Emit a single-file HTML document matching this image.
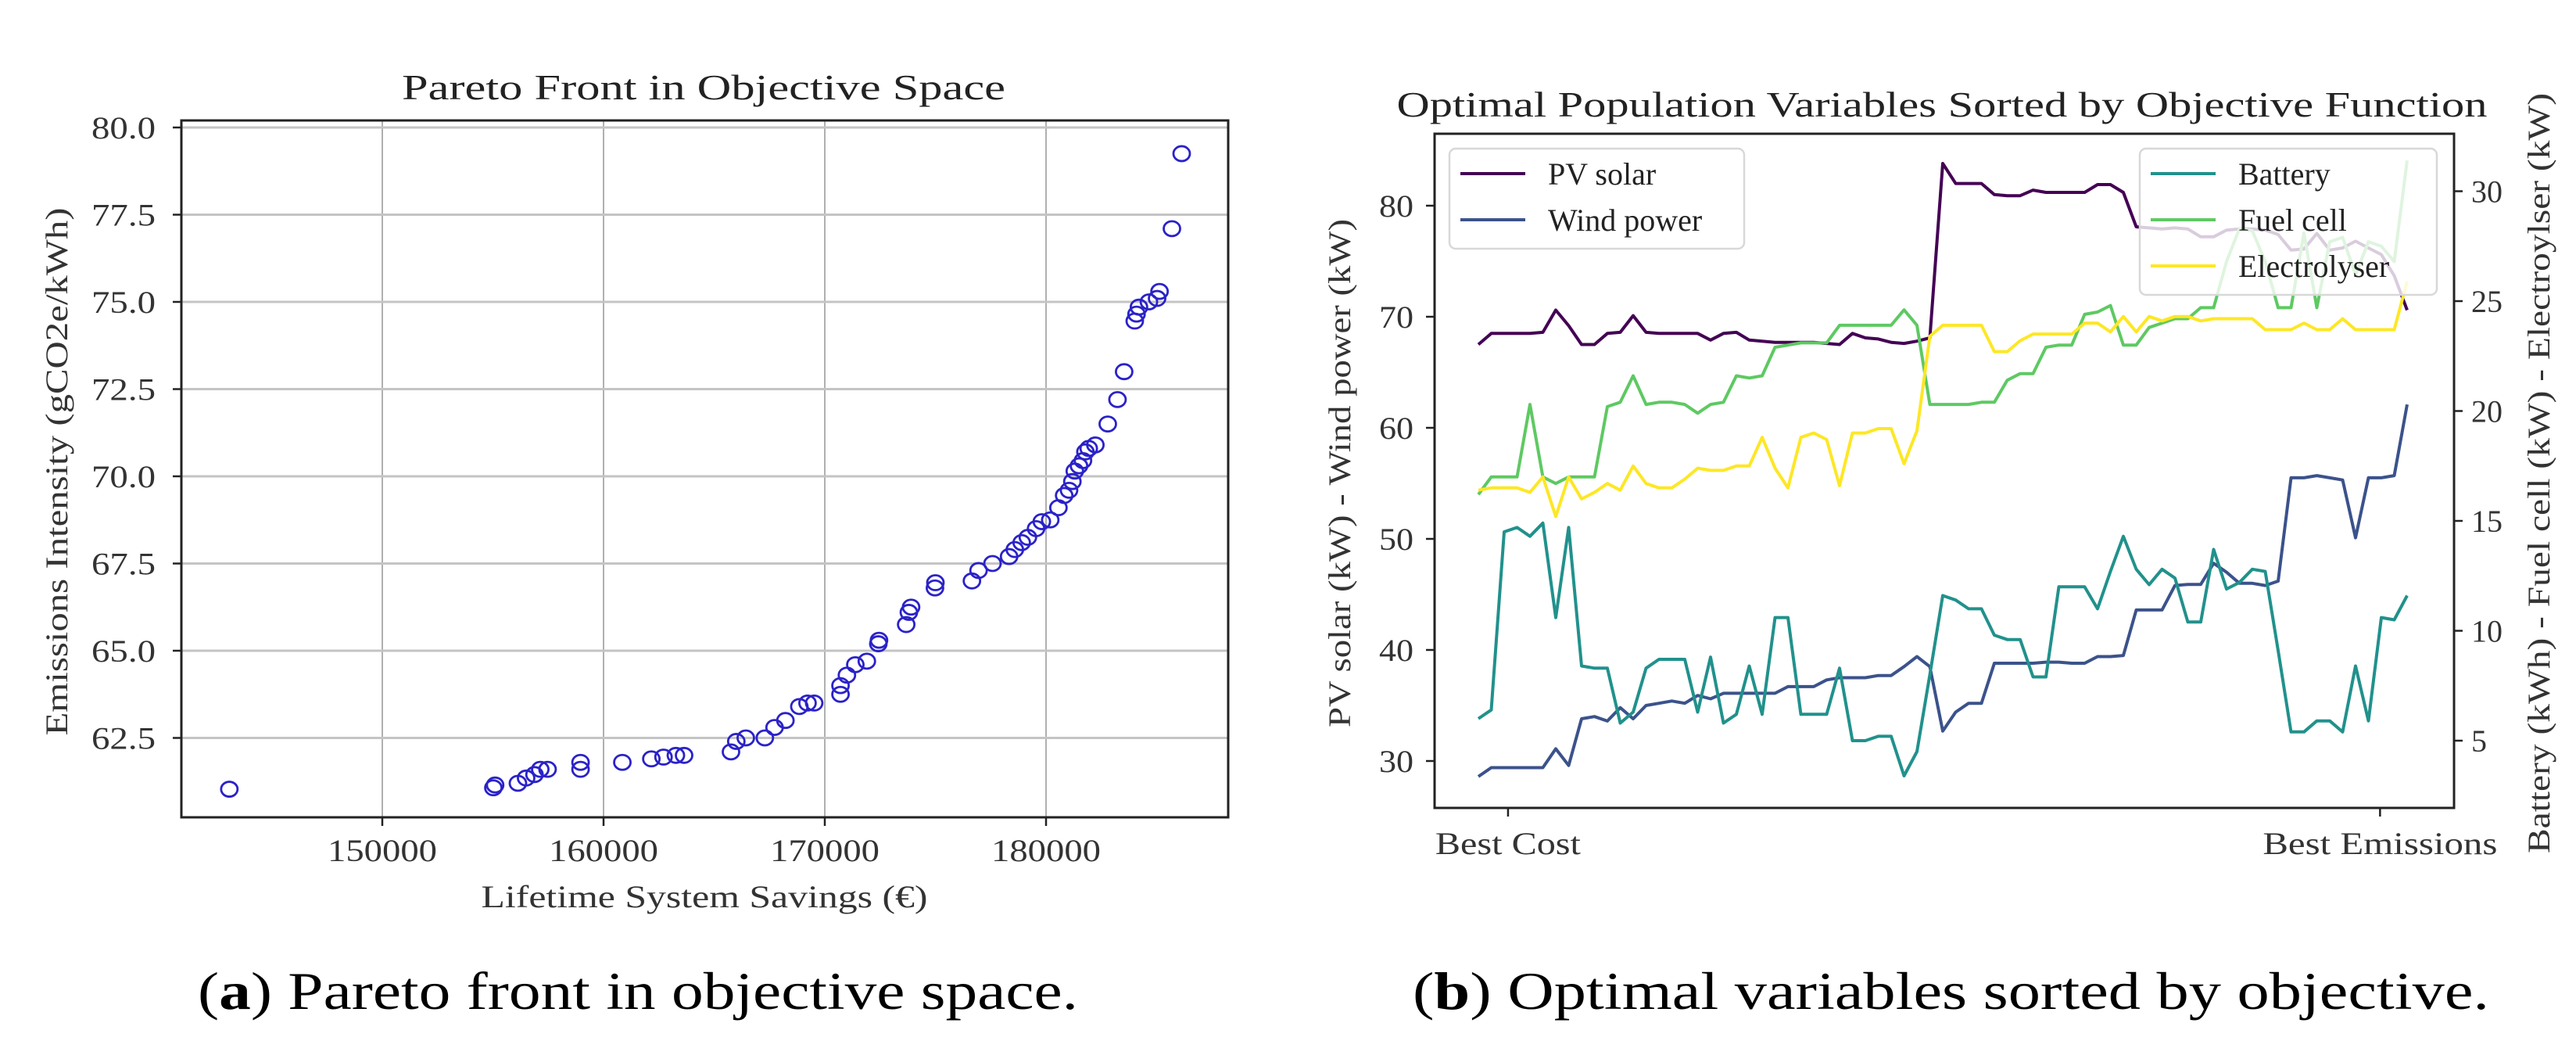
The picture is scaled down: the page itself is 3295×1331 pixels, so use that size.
<!DOCTYPE html>
<html><head><meta charset="utf-8"><style>
html,body{margin:0;padding:0;background:#fff;}
svg{display:block;font-family:"Liberation Serif","DejaVu Serif",serif;}
</style></head><body>
<svg id="fig" xmlns="http://www.w3.org/2000/svg" width="3295" height="1331" viewBox="0 0 3295 1331">
<rect width="3295" height="1331" fill="#fff"/>
<g id="left"></g>
<g id="right"></g>
<text x="253" y="1290" font-size="68" textLength="1126" lengthAdjust="spacingAndGlyphs" fill="#000">(<tspan font-weight="bold">a</tspan>) Pareto front in objective space.</text>
<text x="1807" y="1290" font-size="68" textLength="1377" lengthAdjust="spacingAndGlyphs" fill="#000">(<tspan font-weight="bold">b</tspan>) Optimal variables sorted by objective.</text>
</svg>
<script>
// ---- Left chart data ----
const savings = [143086,155020,155100,156130,156500,156880,157140,157470,158960,158960,160850,162160,162710,163270,163640,165760,166000,166430,167290,167730,168220,168850,169220,169520,170710,170710,171000,171380,171900,172420,172450,173680,173800,173900,174980,175000,176650,176950,177580,178330,178590,178900,179180,179550,179810,180190,180560,180820,181040,181190,181300,181490,181670,181780,181930,182230,182790,183230,183530,184010,184090,184200,184650,185020,185130,185690,186130];
const emissions = [61.03,61.07,61.15,61.2,61.35,61.45,61.6,61.6,61.6,61.8,61.8,61.9,61.95,62.0,62.0,62.1,62.4,62.5,62.5,62.8,63.0,63.4,63.5,63.5,63.75,64.0,64.3,64.6,64.7,65.2,65.3,65.75,66.1,66.25,66.8,66.95,67.0,67.3,67.5,67.7,67.9,68.1,68.25,68.5,68.7,68.75,69.1,69.45,69.6,69.85,70.15,70.3,70.45,70.7,70.8,70.9,71.5,72.2,73.0,74.45,74.65,74.85,75.0,75.1,75.3,77.1,79.25];
const xTicksL = [150000,160000,170000,180000];
const yTicksL = [62.5,65.0,67.5,70.0,72.5,75.0,77.5,80.0];

// ---- Right chart data ----
const pvSolar = [67.5,68.5,68.5,68.5,68.5,68.6,70.6,69.2,67.5,67.5,68.5,68.6,70.1,68.6,68.5,68.5,68.5,68.5,67.9,68.5,68.6,67.9,67.8,67.7,67.7,67.7,67.7,67.6,67.5,68.5,68.1,68.0,67.7,67.6,67.8,68.1,83.8,82.0,82.0,82.0,81.0,80.9,80.9,81.4,81.2,81.2,81.2,81.2,81.9,81.9,81.2,78.1,78.0,77.9,78.0,77.9,77.2,77.2,77.8,77.9,77.9,77.8,77.4,76.0,76.1,77.5,76.0,76.2,76.8,76.2,75.6,73.7,70.6];
const windPower = [28.6,29.4,29.4,29.4,29.4,29.4,31.1,29.6,33.8,34.0,33.6,34.8,33.8,35.0,35.2,35.4,35.2,35.9,35.6,36.1,36.1,36.1,36.1,36.1,36.7,36.7,36.7,37.3,37.5,37.5,37.5,37.7,37.7,38.5,39.4,38.5,32.7,34.4,35.2,35.2,38.8,38.8,38.8,38.8,38.9,38.9,38.8,38.8,39.4,39.4,39.5,43.6,43.6,43.6,45.8,45.9,45.9,47.8,47.0,46.0,46.0,45.8,46.2,55.5,55.5,55.7,55.5,55.3,50.1,55.5,55.5,55.7,62.1];
const battery = [6.0,6.4,14.5,14.7,14.3,14.9,10.6,14.7,8.4,8.3,8.3,5.8,6.3,8.3,8.7,8.7,8.7,6.3,8.8,5.8,6.2,8.4,6.2,10.6,10.6,6.2,6.2,6.2,8.3,5.0,5.0,5.2,5.2,3.4,4.5,8.0,11.6,11.4,11.0,11.0,9.8,9.6,9.6,7.9,7.9,12.0,12.0,12.0,11.0,12.7,14.3,12.8,12.1,12.8,12.4,10.4,10.4,13.7,11.9,12.2,12.8,12.7,9.1,5.4,5.4,5.9,5.9,5.4,8.4,5.9,10.6,10.5,11.6];
const fuelCell = [16.2,17.0,17.0,17.0,20.3,17.0,16.7,17.0,17.0,17.0,20.2,20.4,21.6,20.3,20.4,20.4,20.3,19.9,20.3,20.4,21.6,21.5,21.6,22.9,23.0,23.1,23.1,23.1,23.9,23.9,23.9,23.9,23.9,24.6,23.9,20.3,20.3,20.3,20.3,20.4,20.4,21.4,21.7,21.7,22.9,23.0,23.0,24.4,24.5,24.8,23.0,23.0,23.8,24.0,24.2,24.2,24.7,24.7,26.8,28.3,28.2,26.8,24.7,24.7,28.1,24.7,27.7,27.9,26.2,27.7,27.5,26.8,31.4];
const electrolyser = [16.4,16.5,16.5,16.5,16.3,17.0,15.2,17.0,16.0,16.3,16.7,16.4,17.5,16.7,16.5,16.5,16.9,17.4,17.3,17.3,17.5,17.5,18.8,17.4,16.5,18.8,19.0,18.7,16.6,19.0,19.0,19.2,19.2,17.6,19.1,23.4,23.9,23.9,23.9,23.9,22.7,22.7,23.2,23.5,23.5,23.5,23.5,24.0,24.0,23.6,24.3,23.6,24.3,24.1,24.3,24.3,24.1,24.2,24.2,24.2,24.2,23.7,23.7,23.7,24.0,23.7,23.7,24.2,23.7,23.7,23.7,23.7,25.9];
const yTicksLeftR = [30,40,50,60,70,80];
const yTicksRightR = [5,10,15,20,25,30];
const xTickPosR = [2.3,69.9];
const xTickLabelsR = ["Best Cost","Best Emissions"];

const NS = "http://www.w3.org/2000/svg";
function mk(parent, tag, attrs, text){
  const e = document.createElementNS(NS, tag);
  for (const k in attrs) e.setAttribute(k, attrs[k]);
  if (text !== undefined) e.textContent = text;
  parent.appendChild(e);
  return e;
}

// ===== Left chart =====
(function(){
  const g = document.getElementById('left');
  const L=232,R=1571,T=154,B=1045;
  const xs = v => 489 + (v-150000)*0.0283;
  const ys = v => 163 + (80-v)*44.6;
  let t = mk(g,'text',{x:900,y:127,'font-size':46,'text-anchor':'middle',textLength:772,lengthAdjust:'spacingAndGlyphs',fill:'#222'},'Pareto Front in Objective Space');
  
  
  xTicksL.forEach(v=>{
    const x = xs(v);
    let l = mk(g,'line',{x1:x,x2:x,y1:T,y2:B,stroke:'#b0b0b0','stroke-width':2});
    
    
    let tk = mk(g,'line',{x1:x,x2:x,y1:B,y2:B+11,stroke:'#222','stroke-width':2.5});
    
    
    let lb = mk(g,'text',{x:x,y:1101,'font-size':40,'text-anchor':'middle',fill:'#333',textLength:140,lengthAdjust:'spacingAndGlyphs'},String(v));
    
    
  });
  yTicksL.forEach(v=>{
    const y = ys(v);
    let l = mk(g,'line',{x1:L,x2:R,y1:y,y2:y,stroke:'#c4c4c4','stroke-width':3});
    
    
    let tk = mk(g,'line',{x1:L-11,x2:L,y1:y,y2:y,stroke:'#222','stroke-width':2.5});
    
    
    let lb = mk(g,'text',{x:199,y:y+14,'font-size':40,'text-anchor':'end',fill:'#333',textLength:82,lengthAdjust:'spacingAndGlyphs'},v.toFixed(1));
    
    
  });
  let fr = mk(g,'rect',{x:L,y:T,width:R-L,height:B-T,fill:'none',stroke:'#222','stroke-width':3});
  
  
  savings.forEach((v,i)=>{
    let c = mk(g,'ellipse',{cx:xs(v),cy:ys(emissions[i]),rx:10.5,ry:9.5,fill:'none',stroke:'#2a22c8','stroke-width':2.8});
    
    
  });
  let xl = mk(g,'text',{x:901,y:1160,'font-size':40,'text-anchor':'middle',fill:'#333',textLength:571,lengthAdjust:'spacingAndGlyphs'},'Lifetime System Savings (€)');
  
  
  let yl = mk(g,'text',{x:0,y:0,'font-size':40,'text-anchor':'middle',fill:'#333',textLength:675,lengthAdjust:'spacingAndGlyphs',transform:'translate(86,603) rotate(-90)'},'Emissions Intensity (gCO2e/kWh)');
  
  
})();

// ===== Right chart =====
(function(){
  const g = document.getElementById('right');
  const L=1835,R=3139,T=171,B=1033;
  const N = pvSolar.length;
  const xs = i => 1891 + i*(3079-1891)/(N-1);
  const yl = v => 263 + (80-v)*14.2;
  const yr = v => 947 - (v-5)*28.1;
  let t = mk(g,'text',{x:2484,y:149,'font-size':46,'text-anchor':'middle',fill:'#222',textLength:1395,lengthAdjust:'spacingAndGlyphs'},'Optimal Population Variables Sorted by Objective Function');
  
  
  yTicksLeftR.forEach(v=>{
    const y=yl(v);
    let tk = mk(g,'line',{x1:L-11,x2:L,y1:y,y2:y,stroke:'#222','stroke-width':2.5});
    
    
    let lb = mk(g,'text',{x:1808,y:y+14,'font-size':40,'text-anchor':'end',fill:'#333',textLength:44,lengthAdjust:'spacingAndGlyphs'},String(v));
    
    
  });
  yTicksRightR.forEach(v=>{
    const y=yr(v);
    let tk = mk(g,'line',{x1:R,x2:R+11,y1:y,y2:y,stroke:'#222','stroke-width':2.5});
    
    
    let lb = mk(g,'text',{x:3161,y:y+14,'font-size':40,'text-anchor':'start',fill:'#333'},String(v));
    
    
  });
  xTickPosR.forEach((p,i)=>{
    const x=xs(p);
    let tk = mk(g,'line',{x1:x,x2:x,y1:B,y2:B+11,stroke:'#222','stroke-width':2.5});
    
    
    let lb = mk(g,'text',{x:x,y:1092,'font-size':40,'text-anchor':'middle',fill:'#333',textLength:i===0?186:300,lengthAdjust:'spacingAndGlyphs'},xTickLabelsR[i]);
    
    
  });
  function series(arr, ys, color, name){
    const d = arr.map((v,i)=>(i?'L':'M')+xs(i).toFixed(1)+','+ys(v).toFixed(1)).join(' ');
    let p = mk(g,'path',{d:d,fill:'none',stroke:color,'stroke-width':4,'stroke-linejoin':'round'});
    
    
  }
  function legend(x,y,w,h,items,name){
    const lg = mk(g,'g',{});
    
    
    mk(lg,'rect',{x:x,y:y,width:w,height:h,rx:8,fill:'#fff','fill-opacity':0.8,stroke:'#d8d8d8','stroke-width':2.5});
    items.forEach((it,i)=>{
      const yy = y+32+i*59;
      const e = mk(lg,'g',{});
      
      
      mk(e,'line',{x1:x+14,x2:x+97,y1:yy,y2:yy,stroke:it[1],'stroke-width':4});
      mk(e,'text',{x:x+126,y:yy+14,'font-size':40,fill:'#222'},it[0]);
    });
  }
  series(pvSolar, yl, '#440154', 'pv-solar-line');
  series(windPower, yl, '#3b528b', 'wind-power-line');
  legend(1854,190,377,128,[['PV solar','#440154'],['Wind power','#3b528b']],'legend-left');
  series(battery, yr, '#21918c', 'battery-line');
  series(fuelCell, yr, '#5ec962', 'fuel-cell-line');
  series(electrolyser, yr, '#fde725', 'electrolyser-line');
  legend(2737,190,380,187,[['Battery','#21918c'],['Fuel cell','#5ec962'],['Electrolyser','#fde725']],'legend-right');
  let fr = mk(g,'rect',{x:L,y:T,width:R-L,height:B-T,fill:'none',stroke:'#222','stroke-width':3});
  
  
  let a1 = mk(g,'text',{x:0,y:0,'font-size':40,'text-anchor':'middle',fill:'#333',textLength:650,lengthAdjust:'spacingAndGlyphs',transform:'translate(1727,605) rotate(-90)'},'PV solar (kW) - Wind power (kW)');
  
  
  let a2 = mk(g,'text',{x:0,y:0,'font-size':40,'text-anchor':'middle',fill:'#333',textLength:972,lengthAdjust:'spacingAndGlyphs',transform:'translate(3261,605) rotate(-90)'},'Battery (kWh) - Fuel cell (kW) - Electroylser (kW)');
  
  
})();
</script>
</body></html>
